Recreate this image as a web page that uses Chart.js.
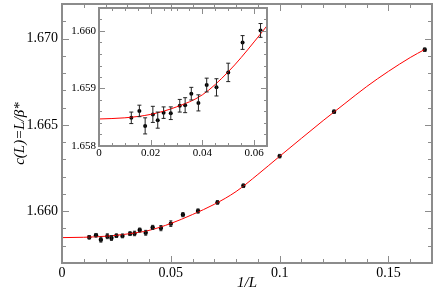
<!DOCTYPE html>
<html lang="en">
  <head>
    <meta charset="UTF-8" />
    <title>c(L) versus 1/L</title>
    <script src="https://cdn.jsdelivr.net/npm/chart.js"></script>
    <style>
      html,
      body {
        margin: 0;
        padding: 0;
        background: #fff;
      }
      #wrap {
        position: relative;
        width: 436px;
        height: 292px;
      }
      #main {
        position: absolute;
        left: 0;
        top: 0;
      }
      #inset {
        position: absolute;
        left: 55px;
        top: 0;
      }
    </style>
  </head>
  <body>
    <div id="wrap">
      <canvas id="main" width="436" height="292"></canvas>
      <canvas id="inset" width="220" height="165"></canvas>
    </div>
    <script>
      // lattice sizes and measured c(L) = L/beta* with error bars
      const sizes = [80, 64, 56, 48, 44, 40, 36, 32, 30, 28, 26, 24, 22, 20, 18, 16, 14, 12, 10, 8, 6];
      const cValues = [
        1.65849, 1.65861, 1.65835, 1.65855, 1.65845, 1.65858, 1.65857, 1.6587, 1.65871, 1.65891,
        1.65875, 1.65906, 1.65902, 1.65928, 1.6598, 1.66001, 1.66051, 1.66147, 1.66319, 1.66576,
        1.66935,
      ];
      const cErrors = [
        0.0001, 0.0001, 0.00014, 0.00014, 0.00014, 0.0001, 0.00011, 0.00011, 0.00013, 0.00011,
        0.00014, 0.00012, 0.00015, 0.00016, 0.00012, 0.00012, 0.0001, 0.0001, 0.0001, 0.0001,
        0.0001,
      ];

      // fit curve
      const fitX = [0, 0.01, 0.02, 0.03, 0.04, 0.05, 0.06, 0.07, 0.08, 0.09, 0.1, 0.11, 0.12, 0.13, 0.14, 0.15, 0.16, 0.1667];
      const fitY = [
        1.65847, 1.65849, 1.65855, 1.65868, 1.65889, 1.65929, 1.65981, 1.6604, 1.66114, 1.66213,
        1.66318, 1.66422, 1.66525, 1.66624, 1.66722, 1.6681, 1.6689, 1.66937,
      ];

      // tick labels
      const mainXTicks = [0, 0.05, 0.1, 0.15];
      const mainXLabels = ["0", "0.05", "0.1", "0.15"];
      const mainYTicks = [1.66, 1.665, 1.67];
      const mainYLabels = ["1.660", "1.665", "1.670"];
      const insetXTicks = [0, 0.02, 0.04, 0.06];
      const insetXLabels = ["0", "0.02", "0.04", "0.06"];
      const insetYTicks = [1.658, 1.659, 1.66];
      const insetYLabels = ["1.658", "1.659", "1.660"];

      const axisColor = "#8c8c8c";
      const serif = "'Liberation Serif', 'DejaVu Serif', serif";

      const points = sizes.map((L, i) => ({ x: 1 / L, y: cValues[i], e: cErrors[i] }));
      const fit = fitX.map((x, i) => ({ x: x, y: fitY[i] }));

      // box round the plot area with inward ticks on all four sides
      const framePlugin = {
        id: "frame",
        afterDraw(chart, args, opts) {
          const { ctx, chartArea: a } = chart;
          const xs = chart.scales.x;
          const ys = chart.scales.y;
          ctx.save();
          ctx.strokeStyle = axisColor;
          ctx.lineWidth = opts.lineWidth;
          ctx.beginPath();
          const minorValues = (min, max, step) => {
            const out = [];
            for (let n = Math.ceil(min / step - 1e-6); n <= Math.floor(max / step + 1e-6); n++) {
              out.push(n * step);
            }
            return out;
          };
          const xTick = (v, len) => {
            const px = Math.round(xs.getPixelForValue(v)) + 0.5;
            ctx.moveTo(px, a.bottom);
            ctx.lineTo(px, a.bottom - len);
            ctx.moveTo(px, a.top);
            ctx.lineTo(px, a.top + len);
          };
          const yTick = (v, len) => {
            const py = Math.round(ys.getPixelForValue(v)) + 0.5;
            ctx.moveTo(a.left, py);
            ctx.lineTo(a.left + len, py);
            ctx.moveTo(a.right, py);
            ctx.lineTo(a.right - len, py);
          };
          minorValues(xs.min, xs.max, opts.xMinor).forEach((v) => xTick(v, opts.minor));
          minorValues(ys.min, ys.max, opts.yMinor).forEach((v) => yTick(v, opts.minor));
          xs.ticks.forEach((t) => xTick(t.value, opts.major));
          ys.ticks.forEach((t) => yTick(t.value, opts.major));
          ctx.stroke();
          ctx.lineWidth = opts.boxWidth;
          ctx.strokeRect(a.left, a.top, a.right - a.left, a.bottom - a.top);
          ctx.restore();
        },
      };

      // vertical error bars with small caps
      const errorBarPlugin = {
        id: "errorBars",
        afterDatasetsDraw(chart, args, opts) {
          const { ctx, chartArea: a } = chart;
          const xs = chart.scales.x;
          const ys = chart.scales.y;
          ctx.save();
          ctx.beginPath();
          ctx.rect(a.left, a.top, a.right - a.left, a.bottom - a.top);
          ctx.clip();
          ctx.strokeStyle = "#222";
          ctx.lineWidth = 1;
          ctx.beginPath();
          points.forEach((p) => {
            const px = xs.getPixelForValue(p.x);
            const y1 = ys.getPixelForValue(p.y - p.e);
            const y2 = ys.getPixelForValue(p.y + p.e);
            ctx.moveTo(px, y1);
            ctx.lineTo(px, y2);
            ctx.moveTo(px - opts.cap, y1);
            ctx.lineTo(px + opts.cap, y1);
            ctx.moveTo(px - opts.cap, y2);
            ctx.lineTo(px + opts.cap, y2);
          });
          ctx.stroke();
          ctx.restore();
        },
      };

      function makeChart(id, cfg) {
        const ctx = document.getElementById(id).getContext("2d");
        return new Chart(ctx, {
          type: "scatter",
          data: {
            datasets: [
              {
                type: "line",
                data: fit,
                borderColor: "#ff0000",
                borderWidth: 1,
                pointRadius: 0,
                cubicInterpolationMode: "monotone",
              },
              {
                data: points,
                backgroundColor: "#000",
                borderColor: "#000",
                pointRadius: cfg.pointRadius,
                pointBorderWidth: 0,
              },
            ],
          },
          options: {
            responsive: false,
            animation: false,
            events: [],
            layout: { padding: cfg.padding },
            plugins: {
              legend: { display: false },
              tooltip: { enabled: false },
              frame: cfg.frame,
              errorBars: { cap: cfg.cap },
            },
            scales: {
              x: {
                type: "linear",
                min: cfg.xMin,
                max: cfg.xMax,
                grid: { display: false, drawTicks: false },
                border: { display: false },
                afterBuildTicks: (scale) => {
                  scale.ticks = cfg.xTicks.map((v) => ({ value: v }));
                },
                afterFit: (scale) => {
                  scale.height = cfg.xHeight;
                  scale.paddingLeft = 0;
                  scale.paddingRight = 0;
                },
                ticks: {
                  color: "#000",
                  padding: cfg.xPad,
                  maxRotation: 0,
                  font: { family: serif, size: cfg.fontSize },
                  callback: (v, i) => cfg.xLabels[i],
                },
                title: cfg.xTitle,
              },
              y: {
                type: "linear",
                min: cfg.yMin,
                max: cfg.yMax,
                grid: { display: false, drawTicks: false },
                border: { display: false },
                afterBuildTicks: (scale) => {
                  scale.ticks = cfg.yTicks.map((v) => ({ value: v }));
                },
                afterFit: (scale) => {
                  scale.width = cfg.yWidth;
                  scale.paddingTop = 0;
                  scale.paddingBottom = 0;
                },
                ticks: {
                  color: "#000",
                  padding: cfg.yPad,
                  font: { family: serif, size: cfg.fontSize },
                  callback: (v, i) => cfg.yLabels[i],
                },
                title: cfg.yTitle,
              },
            },
          },
          plugins: [framePlugin, errorBarPlugin],
        });
      }

      makeChart("main", {
        xMin: 0,
        xMax: 0.17,
        yMin: 1.657,
        yMax: 1.672,
        xTicks: mainXTicks,
        xLabels: mainXLabels,
        yTicks: mainYTicks,
        yLabels: mainYLabels,
        padding: { top: 1, right: 2, left: 0, bottom: 0 },
        xHeight: 29,
        yWidth: 62,
        xPad: 2,
        yPad: 4,
        fontSize: 14,
        pointRadius: 2.2,
        cap: 1.5,
        frame: { major: 7, minor: 4, xMinor: 0.01, yMinor: 0.001, lineWidth: 1, boxWidth: 2 },
        xTitle: {
          display: true,
          text: "1/L",
          color: "#000",
          padding: { top: 0, bottom: 0 },
          font: { family: serif, size: 15, style: "italic" },
        },
        yTitle: {
          display: true,
          text: "c(L)=L/β*",
          color: "#000",
          padding: { top: 11, bottom: 0 },
          font: { family: serif, size: 15, style: "italic" },
        },
      });

      makeChart("inset", {
        xMin: 0,
        xMax: 0.065,
        yMin: 1.658,
        yMax: 1.6604,
        xTicks: insetXTicks,
        xLabels: insetXLabels,
        yTicks: insetYTicks,
        yLabels: insetYLabels,
        padding: { top: 8, right: 8, left: 0, bottom: 0 },
        xHeight: 19,
        yWidth: 44,
        xPad: 1,
        yPad: 3,
        fontSize: 11,
        pointRadius: 2,
        cap: 2,
        frame: { major: 6, minor: 3, xMinor: 0.005, yMinor: 0.0002, lineWidth: 1, boxWidth: 2 },
        xTitle: { display: false },
        yTitle: { display: false },
      });
    </script>
  </body>
</html>
